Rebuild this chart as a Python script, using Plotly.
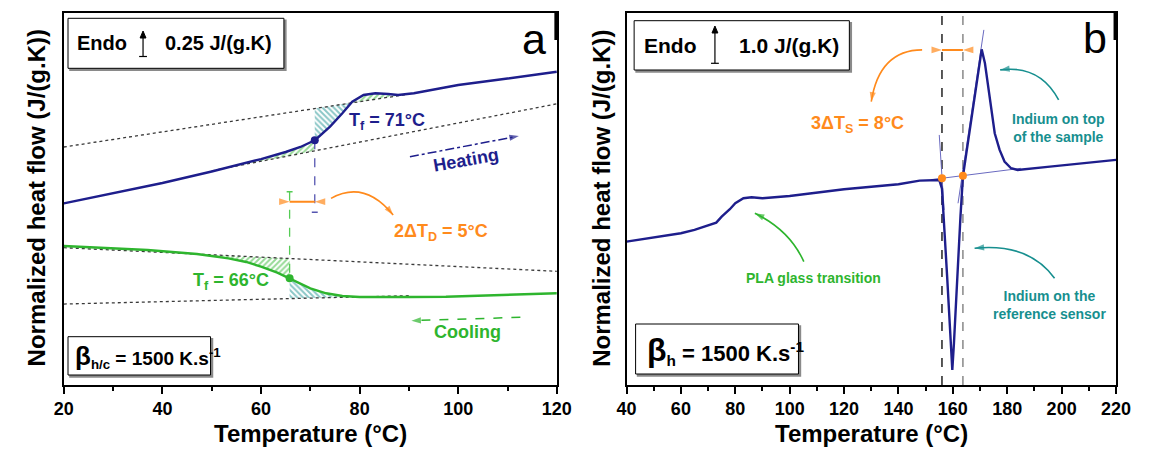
import numpy as np
import plotly.graph_objects as go

W, H = 1150, 450
FONT = "Liberation Sans, Arial, sans-serif"
NAVY = "#1E1E8C"
GREEN = "#2EB52E"
TEAL = "#178F8F"
ORANGE = "#FF8A1C"
BASE = "#3A3A3A"

# ---------------- Panel a : heating / cooling at 1500 K/s ----------------
heat_T = [20, 30, 40, 50, 55, 60, 65, 68, 71, 74, 76.5, 78.5, 80.8, 83.2, 85.8, 87.8,
          91, 94.4, 100, 110, 120]
heat_Y = [2.432, 2.564, 2.704, 2.858, 2.938, 3.025, 3.119, 3.186, 3.280, 3.460, 3.637,
          3.793, 3.882, 3.905, 3.896, 3.882, 3.905, 3.949, 4.016, 4.103, 4.194]
heat_hi_T = [20, 90]
heat_hi_Y = [3.186, 3.894]
heat_lo_T = [50, 120]
heat_lo_Y = [2.867, 3.764]

cool_T = [20, 30, 37, 47, 53.4, 57, 60, 63.3, 65.8, 68, 70, 73.2, 76.5, 80, 85, 90,
          97.5, 105, 112, 120]
cool_Y = [1.861, 1.834, 1.807, 1.754, 1.696, 1.647, 1.584, 1.503, 1.428, 1.360, 1.295,
          1.228, 1.191, 1.178, 1.174, 1.178, 1.182, 1.198, 1.212, 1.228]
cool_hi_T = [20, 120]
cool_hi_Y = [1.838, 1.522]
cool_lo_T = [20, 90]
cool_lo_Y = [1.084, 1.195]

Tf_heat = 70.9
Tf_cool = 65.8
Tf_heat_label = "T<sub>f</sub> = 71°C"
Tf_cool_label = "T<sub>f</sub> = 66°C"
dTD_label = "2ΔT<sub>D</sub> = 5°C"

# ---------------- Panel b : PLA + indium, heating 1500 K/s ----------------
b_T = [40, 50, 60, 65, 70, 73, 75, 78, 80, 83, 86, 90, 100, 120, 140, 147.8, 155, 156,
       157.9, 159.8, 160.4, 161.6, 162.8, 163.7, 165.8, 168.2, 170, 170.6, 171.8, 173,
       174.2, 175.4, 177.2, 179, 181.4, 183.8, 195.7, 212.5, 220]
b_Y = [3.981, 4.102, 4.213, 4.306, 4.444, 4.509, 4.676, 4.880, 5.047, 5.186, 5.214,
       5.186, 5.25, 5.436, 5.575, 5.675, 5.694, 5.45, 3.009, 0.417, 1.157, 3.009, 4.676,
       5.787, 6.898, 8.148, 9.12, 9.32, 8.935, 8.287, 7.546, 6.991, 6.528, 6.204, 6.019,
       5.972, 6.065, 6.204, 6.25]
b_base_T = [152, 185]
b_base_Y = [5.703, 6.017]
b_tanL_T = [155.0, 156.8]
b_tanL_Y = [6.944, 4.861]
b_tanR_T = [161.9, 171.4]
b_tanR_Y = [5.047, 9.861]
b_onset_T = [156.0, 163.7]
b_onset_Y = [5.741, 5.814]
dTS_label = "3ΔT<sub>S</sub> = 8°C"

XA = dict(xref="x", yref="y")
XB = dict(xref="x2", yref="y2")


def band(tT, tY, bT, bY, t0, t1):
    xs = sorted(set([t0, t1] + [t for t in list(tT) + list(bT) if t0 < t < t1]))
    top = np.interp(xs, tT, tY)
    bot = np.interp(xs, bT, bY)
    return xs + xs[::-1], list(top) + list(bot[::-1])


fig = go.Figure()


def hatch(xs, ys, color, shape, xa="x", ya="y"):
    fig.add_trace(go.Scatter(
        x=xs, y=ys, xaxis=xa, yaxis=ya, mode="lines", fill="toself",
        line=dict(width=0, color=color), fillcolor="rgba(0,0,0,0)",
        fillpattern=dict(shape=shape, fgcolor=color, bgcolor="rgba(0,0,0,0)",
                         size=4, solidity=0.5),
        hoverinfo="skip", showlegend=False))


def line(x, y, color, width=1.2, dash="solid", xa="x", ya="y"):
    fig.add_trace(go.Scatter(x=x, y=y, xaxis=xa, yaxis=ya, mode="lines",
                             line=dict(color=color, width=width, dash=dash),
                             hoverinfo="skip", showlegend=False))


def arrowhead(x0, y0, x1, y1, color, size=10, xa="x", ya="y"):
    # marker arrow at (x1, y1), oriented from (x0, y0)
    fig.add_trace(go.Scatter(x=[x0, x1], y=[y0, y1], xaxis=xa, yaxis=ya, mode="markers",
                             marker=dict(symbol=["circle", "arrow"], size=[0, size],
                                         color=color, angleref="previous",
                                         line=dict(width=0)),
                             hoverinfo="skip", showlegend=False))


# hatched areas panel a
hatch(*band(heat_T, heat_Y, heat_lo_T, heat_lo_Y, 55, Tf_heat), GREEN, "/")
hatch(*band(heat_hi_T, heat_hi_Y, heat_T, heat_Y, Tf_heat, 78.3), TEAL, "\\")
hatch(*band(heat_T, heat_Y, heat_hi_T, heat_hi_Y, 78.3, 89), GREEN, "/")
hatch(*band(cool_hi_T, cool_hi_Y, cool_T, cool_Y, 47.5, Tf_cool), GREEN, "/")
hatch(*band(cool_T, cool_Y, cool_lo_T, cool_lo_Y, Tf_cool, 79.5), TEAL, "\\")

# baselines panel a
for bt, by in [(heat_hi_T, heat_hi_Y), (heat_lo_T, heat_lo_Y),
               (cool_hi_T, cool_hi_Y), (cool_lo_T, cool_lo_Y)]:
    line(bt, by, BASE, 1.3, "dot")

# curves panel a
line(heat_T, heat_Y, NAVY, 2.4)
line(cool_T, cool_Y, GREEN, 2.4)

# Tf markers and vertical dashes
hy = float(np.interp(Tf_heat, heat_T, heat_Y))
cy = float(np.interp(Tf_cool, cool_T, cool_Y))
line([Tf_heat, Tf_heat], [hy, 2.312], "#5555B0", 1.3, "dash")
line([Tf_heat - 0.6, Tf_heat + 0.6], [2.312, 2.312], "#5555B0", 1.5)
line([Tf_cool, Tf_cool], [2.588, cy], "#55CC55", 1.3, "dash")
line([Tf_cool - 0.6, Tf_cool + 0.6], [2.588, 2.588], "#55CC55", 1.5)
line([Tf_cool, Tf_heat], [2.454, 2.454], ORANGE, 2)
arrowhead(Tf_cool - 3, 2.454, Tf_cool, 2.454, ORANGE, 11)
arrowhead(Tf_heat + 3, 2.454, Tf_heat, 2.454, ORANGE, 11)
fig.add_trace(go.Scatter(x=[Tf_heat], y=[hy], mode="markers",
                         marker=dict(color=NAVY, size=8), showlegend=False))
fig.add_trace(go.Scatter(x=[Tf_cool], y=[cy], mode="markers",
                         marker=dict(color=GREEN, size=8), showlegend=False))

# heating / cooling direction arrows (dashed shafts)
line([90.2, 111.0], [3.056, 3.317], NAVY, 1.5, "dashdot")
arrowhead(90.2, 3.056, 112.3, 3.333, NAVY, 10)
line([112.6, 91.8], [0.906, 0.864], GREEN, 1.5, "dash")
arrowhead(112.6, 0.906, 90.5, 0.861, GREEN, 10)

# ---------------- panel b traces ----------------
line([b_onset_T[0]] * 2, [0, 10.33], "#222222", 1.5, "dash", "x2", "y2")
line([b_onset_T[1]] * 2, [0, 10.33], "#888888", 1.5, "dash", "x2", "y2")
line(b_base_T, b_base_Y, "#6A6AC0", 1, "solid", "x2", "y2")
line(b_tanL_T, b_tanL_Y, "#6A6AC0", 1, "solid", "x2", "y2")
line(b_tanR_T, b_tanR_Y, "#6A6AC0", 1, "solid", "x2", "y2")
line(b_T, b_Y, NAVY, 2.4, "solid", "x2", "y2")
fig.add_trace(go.Scatter(x=b_onset_T, y=b_onset_Y, xaxis="x2", yaxis="y2", mode="markers",
                         marker=dict(color=ORANGE, size=8), showlegend=False))
line(b_onset_T, [9.306, 9.306], ORANGE, 2, "solid", "x2", "y2")
arrowhead(b_onset_T[0] - 5, 9.306, b_onset_T[0], 9.306, ORANGE, 11, "x2", "y2")
arrowhead(b_onset_T[1] + 5, 9.306, b_onset_T[1], 9.306, ORANGE, 11, "x2", "y2")

# ---------------- shapes & annotations ----------------
shapes = []
ann = []


def px(x):
    return x / W


def py(y):
    return 1 - y / H


def curved(x0, y0, cx, cy_, x1, y1, color, xa="x", ya="y"):
    shapes.append(dict(type="path", path=f"M {x0},{y0} Q {cx},{cy_} {x1},{y1}",
                       xref=xa, yref=ya, line=dict(color=color, width=1.6)))
    arrowhead(x1 - 0.2 * (x1 - cx), y1 - 0.2 * (y1 - cy_), x1, y1, color, 10, xa, ya)


curved(74.2, 2.499, 81, 2.75, 86.8, 2.276, ORANGE)
curved(148.7, 9.306, 133, 9.3, 130.0, 7.87, ORANGE, "x2", "y2")
curved(198.9, 7.917, 192, 8.9, 177.4, 8.75, TEAL, "x2", "y2")
curved(197.4, 2.963, 188, 3.95, 168.0, 3.797, TEAL, "x2", "y2")
curved(105.2, 3.425, 100, 4.3, 87.2, 4.769, GREEN, "x2", "y2")


def txt(x, y, s, color, size, refs, xanchor="center", angle=0, bold=True):
    ann.append(dict(x=x, y=y, text=s, showarrow=False, xanchor=xanchor, yanchor="middle",
                    textangle=angle,
                    font=dict(family=FONT, size=size, color=color,
                              weight="bold" if bold else "normal"), **refs))


P = dict(xref="paper", yref="paper")
txt(77.5, 3.525, Tf_heat_label, NAVY, 18, XA, "left")
txt(45.8, 1.383, Tf_cool_label, GREEN, 18, XA, "left")
txt(86.5, 2.035, dTD_label, ORANGE, 18, XA, "left")
txt(101.6, 3.012, "Heating", NAVY, 18, XA, angle=-10)
txt(101.8, 0.714, "Cooling", GREEN, 18, XA)
txt(124.9, 7.222, dTS_label, ORANGE, 18, XB)
txt(198.8, 7.13, "Indium on top<br>of the sample", TEAL, 14, XB)
txt(195.4, 2.22, "Indium on the<br>reference sensor", TEAL, 14, XB)
txt(108.6, 2.963, "PLA glass transition", GREEN, 14, XB)

# boxes
for (l, t, r, b) in [(59.3, 18.3, 280, 68.3), (638, 20.7, 858, 70),
                     (59.3, 336.7, 205, 375), (639.5, 324, 806, 374)]:
    shapes.append(dict(type="rect", xref="paper", yref="paper",
                       x0=px(l + 2), x1=px(r + 2), y0=py(b + 2), y1=py(t + 2),
                       line=dict(color="#8A8A8A", width=1.5), fillcolor="#8A8A8A"))
    shapes.append(dict(type="rect", xref="paper", yref="paper",
                       x0=px(l), x1=px(r), y0=py(b), y1=py(t),
                       line=dict(color="black", width=1), fillcolor="white"))

txt(px(66.7), py(43.3), "Endo", "black", 20, P, "left")
txt(px(156), py(43.3), "0.25 J/(g.K)", "black", 20, P, "left")
# scale bars (0.25 and 1.0 J/(g.K))
for (xc, ytop, ybot) in [(136, 31, 56.5), (720.6, 26, 63.3)]:
    shapes.append(dict(type="line", xref="paper", yref="paper", x0=px(xc), x1=px(xc),
                       y0=py(ybot), y1=py(ytop + 5), line=dict(color="black", width=1.2)))
    shapes.append(dict(type="path", xref="paper", yref="paper",
                       path=f"M {px(xc - 3)},{py(ytop + 7)} L {px(xc)},{py(ytop)} "
                            f"L {px(xc + 3)},{py(ytop + 7)} Z",
                       line=dict(color="black", width=1), fillcolor="black"))
    shapes.append(dict(type="line", xref="paper", yref="paper", x0=px(xc - 4), x1=px(xc + 4),
                       y0=py(ybot), y1=py(ybot), line=dict(color="black", width=1.2)))

txt(px(646), py(45.3), "Endo", "black", 21, P, "left")
txt(px(743), py(45.3), "1.0 J/(g.K)", "black", 21, P, "left")

txt(px(64), py(356.5),
    "<span style='font-size:26px'>β</span><sub>h/c</sub> = 1500 K.s<sup>-1</sup>",
    "black", 19, P, "left")
txt(px(649), py(350),
    "<span style='font-size:32px'>β</span><sub>h</sub> = 1500 K.s<sup>-1</sup>",
    "black", 22, P, "left")

# panel letters
txt(px(536), py(39), "a", "black", 43, P, bold=False)
txt(px(1109), py(38), "b", "black", 43, P, bold=False)
for xr in (559, 1130.6):
    shapes.append(dict(type="line", xref="paper", yref="paper", x0=px(xr - 1), x1=px(xr - 1),
                       y0=py(13), y1=py(40), line=dict(color="black", width=3)))

# axis titles
for xc in (28, 605):
    txt(px(xc), py(198), "Normalized heat flow (J/(g.K))", "black", 24, P, angle=-90)
for xc in (307.5, 881):
    txt(px(xc), py(433), "Temperature (°C)", "black", 24, P)

tickfont = dict(family=FONT, size=18, color="black", weight="bold")
xcommon = dict(showline=True, linecolor="black", linewidth=1.5, mirror=True,
               ticks="outside", ticklen=7, tickwidth=1.5, tickcolor="black",
               tickfont=tickfont, showgrid=False, zeroline=False, fixedrange=True)
ycommon = dict(showline=True, linecolor="black", linewidth=1.5, mirror=True,
               showticklabels=False, ticks="", showgrid=False, zeroline=False,
               fixedrange=True)
ydom = [(H - 385) / H, (H - 13) / H]

fig.update_layout(
    width=W, height=H, margin=dict(l=0, r=0, t=0, b=0),
    paper_bgcolor="white", plot_bgcolor="white", showlegend=False,
    xaxis=dict(domain=[55 / W, 559 / W], range=[20, 120], anchor="y",
               tickvals=[20, 40, 60, 80, 100, 120],
               minor=dict(tickvals=[30, 50, 70, 90, 110], ticks="outside", ticklen=4,
                          tickwidth=1.5, tickcolor="black"), **xcommon),
    yaxis=dict(domain=ydom, range=[0, 4.98], anchor="x", **ycommon),
    xaxis2=dict(domain=[630.2 / W, 1130.6 / W], range=[40, 220], anchor="y2",
                tickvals=list(range(40, 221, 20)),
                minor=dict(tickvals=list(range(50, 220, 20)), ticks="outside", ticklen=4,
                           tickwidth=1.5, tickcolor="black"), **xcommon),
    yaxis2=dict(domain=ydom, range=[0, 10.33], anchor="x2", **ycommon),
    shapes=shapes, annotations=ann,
)

fig.write_html("out.html", config={"displayModeBar": False},
               post_script="document.body.style.margin='0';"
                           "document.body.style.overflow='hidden';")
